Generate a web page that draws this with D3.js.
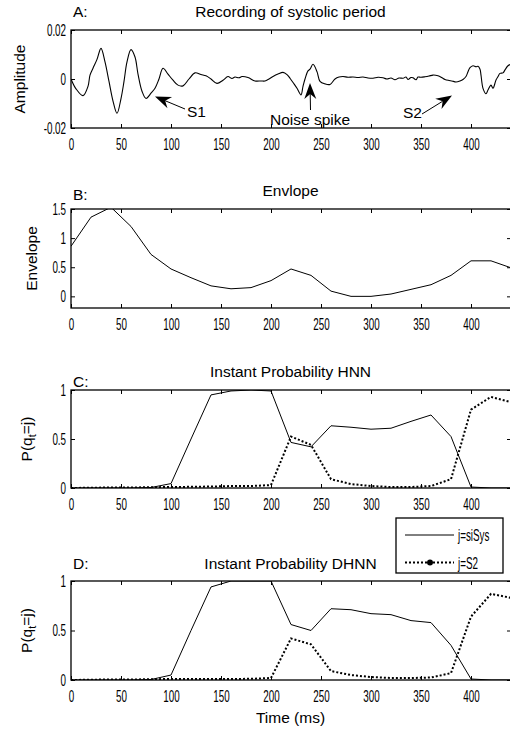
<!DOCTYPE html>
<html>
<head>
<meta charset="utf-8">
<script src="https://cdn.jsdelivr.net/npm/d3@7"></script>
<style>
  body { margin: 0; background: #fff; }
  text { font-family: "Liberation Sans", Arial, Helvetica, sans-serif; fill: #000; }
  .lbl { font-size: 15.5px; }
  .tk text, .narrow { font-size: 17px; }
</style>
</head>
<body>
<div id="chart"></div>
<script>
"use strict";

// ---- data ----
var xTicks = [0, 50, 100, 150, 200, 250, 300, 350, 400];

// A: recording of systolic period (time ms, amplitude)
var recT = [0, 5, 12, 17, 19, 22, 26, 30, 34, 38, 42, 46, 50, 53, 56, 60, 64, 67, 71, 75,
  80, 84, 88, 92, 97, 102, 107, 112, 118, 124, 130, 135, 140, 146, 152, 157, 161, 164, 168,
  171, 177, 184, 190, 194, 198, 202, 207, 212, 216, 219, 223, 226, 230, 232, 234, 237, 239,
  242, 246, 249, 254, 259, 264, 268, 272, 277, 282, 287, 292, 297, 302, 307, 312, 316, 320,
  324, 328, 332, 335, 337, 340, 342, 345, 347, 350, 354, 358, 362, 367, 371, 374, 378, 381,
  385, 389, 392, 395, 397, 399, 402, 405, 407, 409, 410, 412, 415, 417, 420, 422, 425, 427,
  429, 432, 434, 437, 440];
var recV = [0.0, -0.004, -0.0068, -0.003, 0.0016, 0.0044, 0.008, 0.0125, 0.007, -0.001,
  -0.009, -0.014, -0.008, -0.001, 0.007, 0.012, 0.009, 0.002, -0.005, -0.0079,
  -0.0058, -0.0038, 0.0, 0.0044, 0.002, -0.0005, -0.0025, -0.0028, 0.0, 0.0025, 0.0018,
  0.0013, 0.0, -0.0018, -0.0005, 0.001, 0.0002, 0.0008, 0.0005,
  0.001, 0.0006, -0.0008, -0.0008, -0.0008, 0.0, 0.001, 0.002, 0.0027, 0.0018, 0.0003,
  -0.002, -0.0038, -0.0065, -0.003, 0.0, 0.0033, 0.004,
  0.006, 0.003, -0.001, -0.002, -0.0022, 0.0, 0.0008, 0.001, 0.0007, 0.0008, 0.0006, 0.0008,
  0.0004, 0.0003, 0.0007, 0.0005, 0.0, 0.0004,
  -0.0003, 0.0004, 0.0003, 0.0008, -0.0002, 0.0006, 0.0005, -0.0003, 0.0008, 0.0007, 0.0009,
  0.0012, 0.0016, 0.0013, 0.0005, -0.0002, -0.0006, -0.0008,
  -0.0012, -0.0008, -0.0002, 0.001, 0.003, 0.0046, 0.0054, 0.005, 0.0052, 0.004, 0.0016,
  -0.0038, -0.006, -0.0045, -0.0025, -0.0038, -0.0004, 0.001,
  0.0023, 0.0025, 0.0037, 0.0054, 0.006];

// B: envelope, sampled every 20 ms
var envT = [0, 20, 40, 60, 80, 100, 120, 140, 160, 180, 200, 220, 240, 260, 280, 300, 320, 340, 360, 380, 400, 420, 440];
var envV = [0.86, 1.36, 1.53, 1.2, 0.72, 0.47, 0.32, 0.18, 0.13, 0.15, 0.27, 0.47, 0.36, 0.09, 0.0, 0.0, 0.04, 0.12, 0.2, 0.36, 0.61, 0.61, 0.49];

// C and D: instant probabilities, sampled every 20 ms
var probT = envT;
var hnnSys = [0, 0, 0, 0, 0.005, 0.045, 0.5, 0.95, 0.99, 1.0, 0.99, 0.465, 0.42, 0.635, 0.62, 0.6, 0.61, 0.68, 0.745, 0.525, 0.01, 0.0, 0.0];
var hnnS2 = [0.0, 0.003, 0.005, 0.005, 0.008, 0.01, 0.012, 0.015, 0.02, 0.02, 0.03, 0.525, 0.44, 0.09, 0.04, 0.02, 0.01, 0.01, 0.02, 0.09, 0.8, 0.93, 0.875];
var dhnnSys = [0, 0, 0, 0, 0.005, 0.05, 0.5, 0.94, 1.0, 1.0, 1.0, 0.56, 0.5, 0.72, 0.71, 0.67, 0.66, 0.6, 0.58, 0.35, 0.01, 0.0, 0.0];
var dhnnS2 = [0.0, 0.003, 0.005, 0.005, 0.008, 0.01, 0.01, 0.01, 0.01, 0.012, 0.02, 0.42, 0.36, 0.09, 0.05, 0.03, 0.02, 0.02, 0.025, 0.07, 0.64, 0.87, 0.83];

var legendLabels = ["j=siSys", "j=S2"];

// ---- layout ----
var W = 510, H = 729;
var svg = d3.select("#chart").append("svg").attr("width", W).attr("height", H);

var x = d3.scaleLinear().domain([0, 440]).range([71, 511]);

var panels = [
  { key: "A", title: "Recording of systolic period", ylabel: "Amplitude", top: 30, bottom: 128,
    dom: [-0.02, 0.02], yTicks: [-0.02, 0, 0.02], titleY: 17, letterY: 17, labelX: 25 },
  { key: "B", title: "Envlope", ylabel: "Envelope", top: 209, bottom: 308,
    dom: [-0.2, 1.5], yTicks: [0, 0.5, 1, 1.5], titleY: 196, letterY: 200, labelX: 37 },
  { key: "C", title: "Instant Probability HNN", ylabel: "P(q_t=j)", top: 390, bottom: 488,
    dom: [0, 1], yTicks: [0, 0.5, 1], titleY: 377, letterY: 387, labelX: 32 },
  { key: "D", title: "Instant Probability DHNN", ylabel: "P(q_t=j)", top: 581, bottom: 680,
    dom: [0, 1], yTicks: [0, 0.5, 1], titleY: 569, letterY: 569, labelX: 32 }
];

function fmtY(d) {
  if (d === 0) return "0";
  return String(d);
}

panels.forEach(function (p, i) {
  var y = d3.scaleLinear().domain(p.dom).range([p.bottom, p.top]);
  p.y = y;
  var g = svg.append("g");

  var clipId = "clip" + p.key;
  svg.append("clipPath").attr("id", clipId).append("rect")
    .attr("x", 71).attr("y", p.top).attr("width", 440).attr("height", p.bottom - p.top);
  p.plot = g.append("g").attr("clip-path", "url(#" + clipId + ")");

  // axes (inward ticks)
  var bx = g.append("g").attr("class", "tk").attr("transform", "translate(0," + p.bottom + ")")
    .call(d3.axisBottom(x).tickValues(xTicks).tickSizeInner(-4).tickSizeOuter(0));
  bx.selectAll(".tick text").attr("y", 22.5).attr("dy", 0).attr("transform", "scale(0.58,1)");

  g.append("g").attr("transform", "translate(0," + p.top + ")")
    .call(d3.axisTop(x).tickValues(xTicks).tickSizeInner(-4).tickSizeOuter(0).tickFormat(""));

  var ly = g.append("g").attr("class", "tk").attr("transform", "translate(71,0)")
    .call(d3.axisLeft(y).tickValues(p.yTicks).tickSizeInner(-4).tickSizeOuter(0).tickFormat(fmtY));
  ly.selectAll(".tick text").attr("x", -8.5).attr("transform", "scale(0.58,1)");

  g.append("g").attr("transform", "translate(511,0)")
    .call(d3.axisRight(y).tickValues(p.yTicks).tickSizeInner(-4).tickSizeOuter(0).tickFormat(""));

  g.selectAll(".domain").remove();
  g.selectAll(".tick line").attr("stroke", "#000").attr("stroke-width", 1);

  g.append("rect").attr("x", 71).attr("y", p.top).attr("width", 440).attr("height", p.bottom - p.top)
    .attr("fill", "none").attr("stroke", "#000").attr("stroke-width", 1.3);

  // titles
  g.append("text").attr("class", "lbl").attr("x", 290.5).attr("y", p.titleY)
    .attr("text-anchor", "middle").text(p.title);
  g.append("text").attr("class", "lbl").attr("x", 73).attr("y", p.letterY).text(p.key + ":");

  var cy = (p.top + p.bottom) / 2;
  var yl = g.append("text").attr("class", "lbl")
    .attr("transform", "translate(" + p.labelX + "," + cy + ") rotate(-90)")
    .attr("text-anchor", "middle");
  if (p.ylabel === "P(q_t=j)") {
    yl.append("tspan").text("P(q");
    yl.append("tspan").attr("font-size", "11px").attr("dy", 4).text("t");
    yl.append("tspan").attr("dy", -4).text("=j)");
  } else {
    yl.text(p.ylabel);
  }
});

function lineOf(p, xs, curve) {
  return d3.line()
    .x(function (d, i) { return x(xs[i]); })
    .y(function (d) { return p.y(d); })
    .curve(curve || d3.curveLinear);
}

// A
var pA = panels[0];
pA.plot.append("path").datum(recV)
  .attr("d", lineOf(pA, recT, d3.curveCatmullRom.alpha(0.5)))
  .attr("fill", "none").attr("stroke", "#000").attr("stroke-width", 1.1);

// B
var pB = panels[1];
pB.plot.append("path").datum(envV)
  .attr("d", lineOf(pB, envT))
  .attr("fill", "none").attr("stroke", "#000").attr("stroke-width", 1);

// C, D
[[panels[2], hnnSys, hnnS2], [panels[3], dhnnSys, dhnnS2]].forEach(function (s) {
  var p = s[0];
  p.plot.append("path").datum(s[1]).attr("d", lineOf(p, probT))
    .attr("fill", "none").attr("stroke", "#000").attr("stroke-width", 1);
  p.plot.append("path").datum(s[2]).attr("d", lineOf(p, probT))
    .attr("fill", "none").attr("stroke", "#000").attr("stroke-width", 2)
    .attr("stroke-dasharray", "2,2");
});

// annotations in A (matlab-style notched arrows)
function arrow(x1, y1, x2, y2) {
  var dx = x2 - x1, dy = y2 - y1, len = Math.sqrt(dx * dx + dy * dy);
  var ux = dx / len, uy = dy / len, L = 16, w = 6, notch = 11;
  var bx = x2 - ux * L, by = y2 - uy * L;
  var nx = x2 - ux * notch, ny = y2 - uy * notch;
  svg.append("line").attr("x1", x1).attr("y1", y1).attr("x2", nx).attr("y2", ny)
    .attr("stroke", "#000").attr("stroke-width", 1);
  svg.append("path")
    .attr("d", "M" + x2 + "," + y2 + "L" + (bx - uy * w) + "," + (by + ux * w) +
      "L" + nx + "," + ny +
      "L" + (bx + uy * w) + "," + (by - ux * w) + "Z")
    .attr("fill", "#000");
}
arrow(185, 109, 155, 96.5);
arrow(310.5, 110, 310, 83);
arrow(422, 114, 452, 95.5);
svg.append("text").attr("class", "lbl").attr("x", 187).attr("y", 117).text("S1");
svg.append("text").attr("class", "lbl").attr("x", 270).attr("y", 125).text("Noise spike");
svg.append("text").attr("class", "lbl").attr("x", 403).attr("y", 117.5).text("S2");

// x label
svg.append("text").attr("class", "lbl").attr("x", 290.5).attr("y", 723)
  .attr("text-anchor", "middle").text("Time (ms)");

// legend
var lg = svg.append("g");
lg.append("rect").attr("x", 396).attr("y", 518).attr("width", 107).attr("height", 55)
  .attr("fill", "#fff").attr("stroke", "#000").attr("stroke-width", 1.3);
lg.append("line").attr("x1", 405).attr("x2", 454).attr("y1", 535).attr("y2", 535)
  .attr("stroke", "#000").attr("stroke-width", 1);
lg.append("line").attr("x1", 405).attr("x2", 454).attr("y1", 562.5).attr("y2", 562.5)
  .attr("stroke", "#000").attr("stroke-width", 2).attr("stroke-dasharray", "2,2");
lg.append("circle").attr("cx", 430).attr("cy", 562.5).attr("r", 3).attr("fill", "#000");
legendLabels.forEach(function (t, i) {
  lg.append("text").attr("class", "narrow")
    .attr("transform", "translate(458," + (541 + i * 27.5) + ") scale(0.58,1)").text(t);
});
</script>
</body>
</html>
